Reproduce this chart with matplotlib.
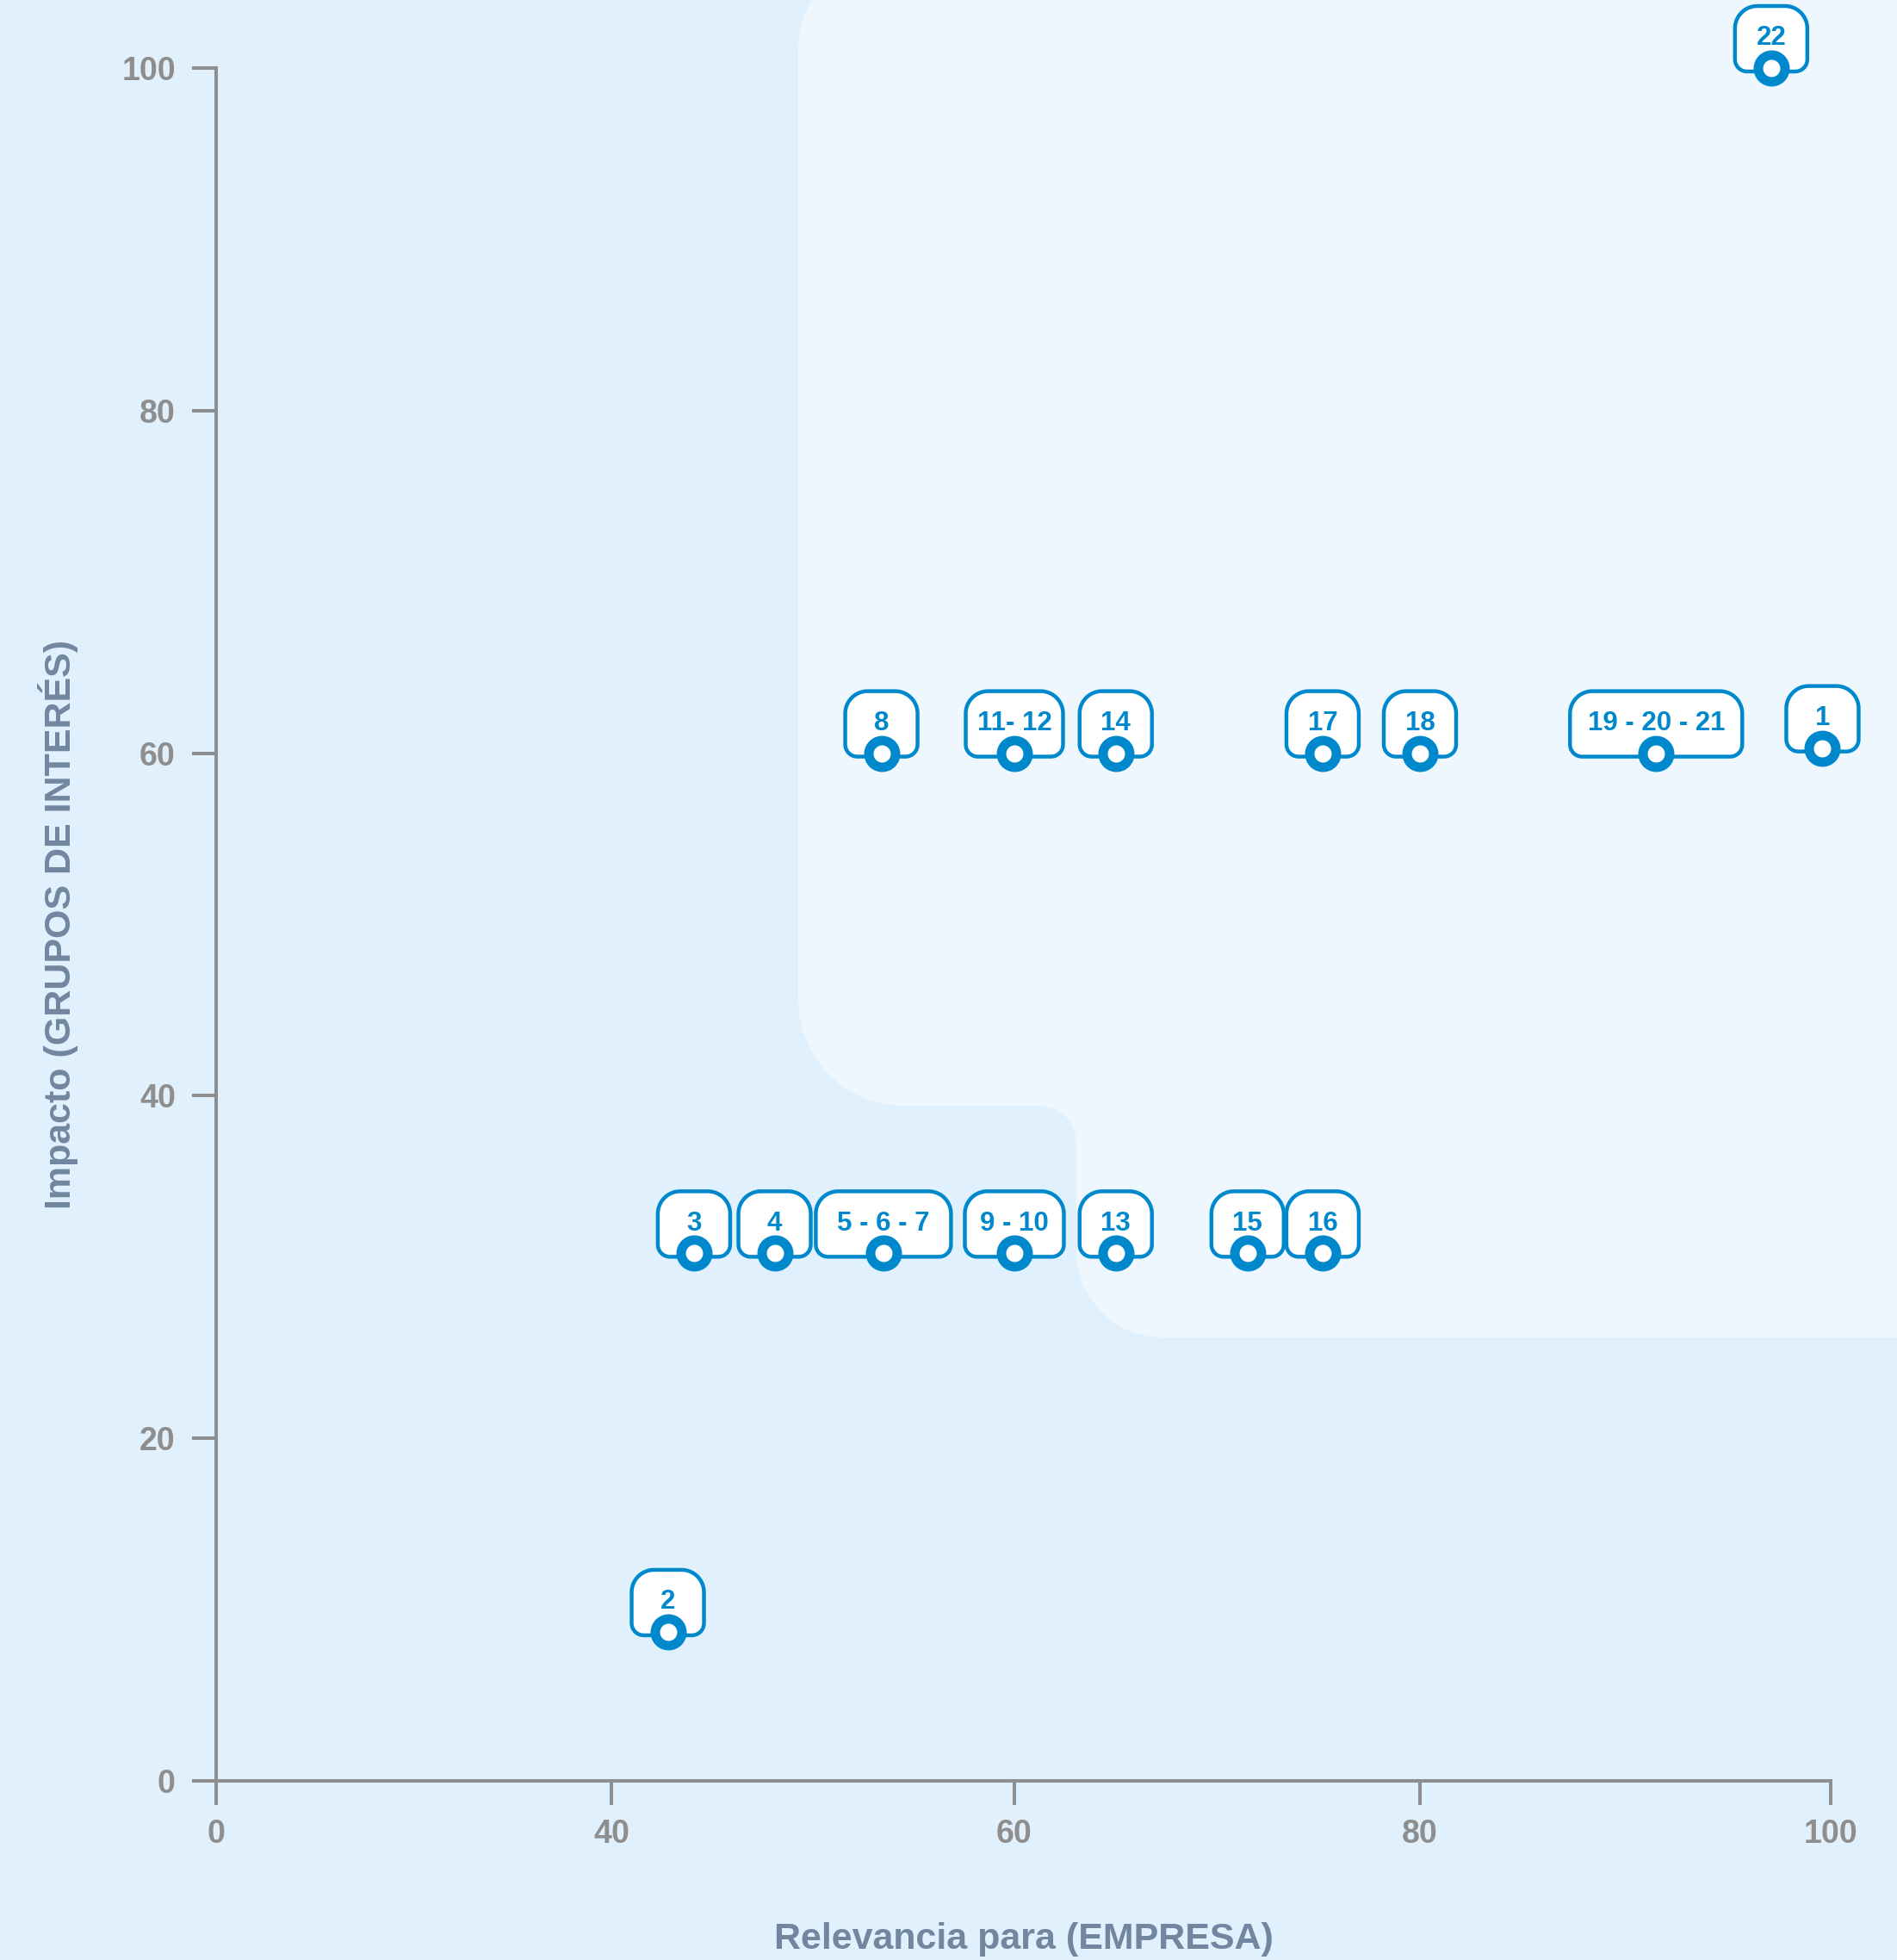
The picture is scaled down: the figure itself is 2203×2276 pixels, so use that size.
import numpy as np
import matplotlib
matplotlib.use('Agg')
import matplotlib.pyplot as plt
from matplotlib.path import Path
from matplotlib.patches import PathPatch, Polygon
from matplotlib.transforms import Affine2D, ScaledTranslation

plt.rcParams['font.family'] = ['Liberation Sans', 'DejaVu Sans']
plt.rcParams['font.weight'] = 'bold'

# Data
labels = ['1', '2', '3', '4', '5 - 6 - 7', '8', '9 - 10', '11- 12', '13', '14',
          '15', '16', '17', '18', '19 - 20 - 21', '22']
relevancia = [99.6, 42.8, 44.1, 48.1, 53.5, 53.4, 60, 60, 65, 65,
              71.5, 75.2, 75.2, 80, 91.5, 97.1]
impacto = [60.3, 8.7, 30.8, 30.8, 30.8, 60, 30.8, 60, 30.8, 60,
           30.8, 30.8, 60, 60, 60, 100]
x_ticks = [0, 40, 60, 80, 100]
y_ticks = [0, 20, 40, 60, 80, 100]

# Colours
bg = '#E0F1FD'
bg_light = '#EEF7FE'
blue = '#0088CC'
grey = '#8E8E8E'
label_col = '#71869F'

# label box widths in pixels (wider boxes for grouped items)
wide_boxes = {'5 - 6 - 7': 157, '9 - 10': 115, '11- 12': 113,
              '19 - 20 - 21': 200}

W, H = 2203, 2276
fig = plt.figure(figsize=(W / 100, H / 100), dpi=100, facecolor=bg)


# lighter stepped area in the background (pixel coords, y measured from top)
def arc(cx, cy, r, a0, a1, n=40):
    t = np.radians(np.linspace(a0, a1, n))
    return list(zip(cx + r * np.cos(t), cy + r * np.sin(t)))


pts = []
pts += arc(1027, 55, 100, 180, 270)
pts += [(2303, -45), (2303, 1553)]
pts += arc(1350, 1453, 100, 90, 180)
pts += arc(1207, 1327, 43, 0, -90)
pts += arc(1050, 1161, 123, 90, 180)
pts = [(px / W, 1 - py / H) for px, py in pts]
shape = Polygon(pts, closed=True, transform=fig.transFigure,
                facecolor=bg_light, edgecolor='none', zorder=-1)
fig.add_artist(shape)

ax = fig.add_axes([251 / W, 1 - 2068 / H, 1875 / W, 1989 / H])
ax.set_facecolor('none')

# x axis ticks are spaced (almost) evenly, not linearly
xpos = np.array([0, 459, 927, 1398, 1875]) / 1875 * 100


def fwd(v):
    return np.interp(v, x_ticks, xpos)


def inv(v):
    return np.interp(v, xpos, x_ticks)


ax.set_xscale('function', functions=(fwd, inv))
ax.set_xlim(0, 100)
ax.set_ylim(0, 100)
ax.set_xticks(x_ticks)
ax.set_yticks(y_ticks)
ax.set_xticklabels([str(t) for t in x_ticks])
ax.set_yticklabels([str(t) for t in y_ticks])

for s in ['top', 'right']:
    ax.spines[s].set_visible(False)
for s in ['left', 'bottom']:
    ax.spines[s].set_color(grey)
    ax.spines[s].set_linewidth(2.9)
ax.tick_params(length=20, width=2.9, color=grey, labelsize=27,
               labelcolor=grey)
ax.tick_params(axis='x', pad=11.5)
ax.tick_params(axis='y', pad=14)

ax.set_xlabel('Relevancia para (EMPRESA)', fontsize=31, color=label_col,
              fontweight='bold', va='center')
ax.xaxis.set_label_coords(0.5, (2068 - 2252) / 1989)
ax.set_ylabel('Impacto (GRUPOS DE INTERÉS)', fontsize=31, color=label_col,
              fontweight='bold', va='center', ha='center')
ax.yaxis.set_label_coords((68 - 251) / 1875, 0.5)


def box_path(w, b=-4, t=72, rt=26, rb=14):
    v = [(-w / 2, b + rb), (-w / 2, t - rt)]
    v += arc(-w / 2 + rt, t - rt, rt, 180, 90, 20)
    v += arc(w / 2 - rt, t - rt, rt, 90, 0, 20)
    v += arc(w / 2 - rb, b + rb, rb, 0, -90, 12)
    v += arc(-w / 2 + rb, b + rb, rb, -90, -180, 12)
    v.append(v[0])
    codes = [Path.MOVETO] + [Path.LINETO] * (len(v) - 2) + [Path.CLOSEPOLY]
    return Path(v, codes)


for lab, x, y in zip(labels, relevancia, impacto):
    ax.annotate(lab, (x, y), xytext=(0, 19.1), textcoords='offset points',
                ha='center', va='baseline', fontsize=22.5, color=blue,
                zorder=6, annotation_clip=False)
    w = wide_boxes.get(lab, 84)
    tr = Affine2D() + ScaledTranslation(x, y, ax.transData)
    ax.add_patch(PathPatch(box_path(w), transform=tr, facecolor='white',
                           edgecolor=blue, lw=3.2, zorder=3, clip_on=False))

ax.plot(relevancia, impacto, 'o', ms=22.3, mew=7.9, mec=blue, mfc='white',
        ls='none', clip_on=False, zorder=4)

fig.savefig('out.png', dpi=100, facecolor=bg)
